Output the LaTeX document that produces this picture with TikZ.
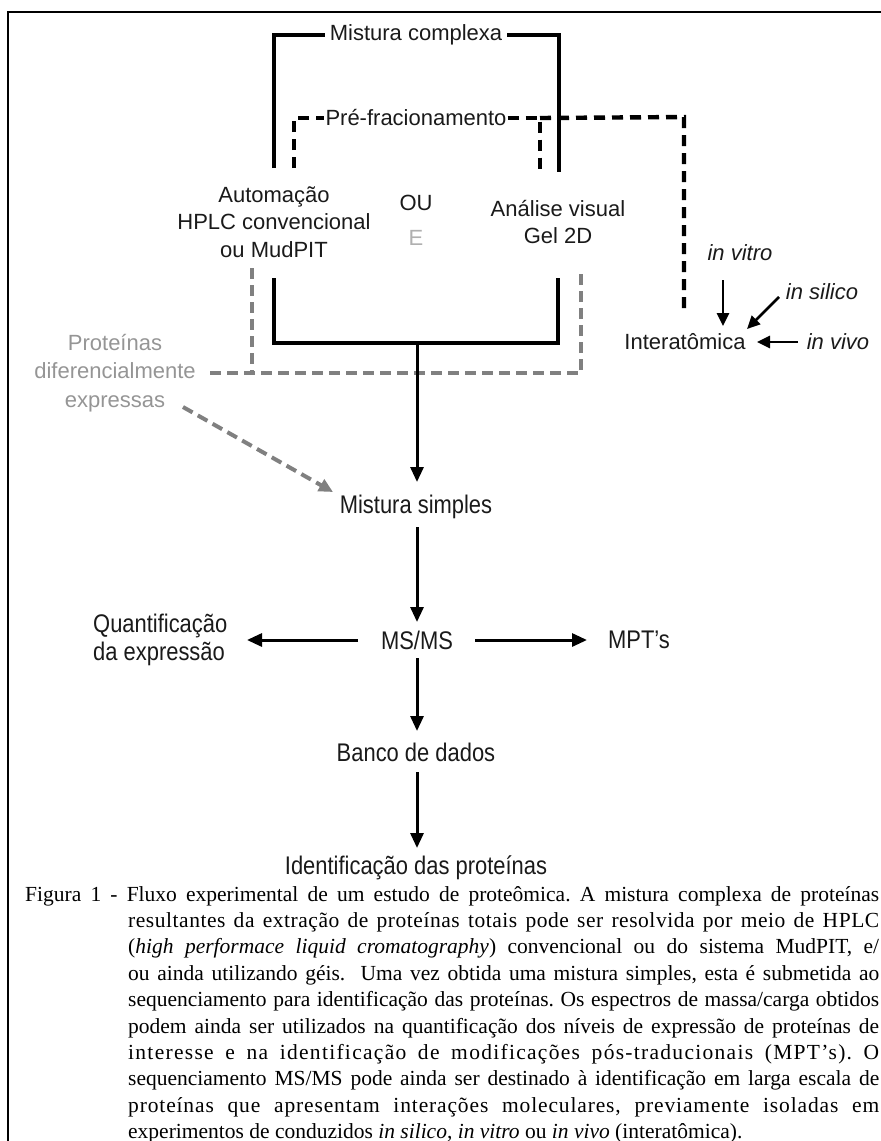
\documentclass[tikz,border=0pt]{standalone}
\usepackage{fontspec}
\setmainfont{Liberation Serif}
\setsansfont{Liberation Sans}
\newfontfamily\narrowsans[FakeStretch=0.86]{Liberation Sans}
\usetikzlibrary{arrows.meta}
\definecolor{txt}{HTML}{1A1A1A}
\definecolor{gtxt}{HTML}{959595}
\definecolor{etxt}{HTML}{B0B0B0}
\definecolor{gline}{HTML}{808080}
\frenchspacing
\begin{document}
\begin{tikzpicture}[x=1pt,y=-1pt,
  lab/.style={font=\fontsize{22}{27.5}\selectfont\sffamily, align=center, inner sep=5pt, text=txt},
  nlab/.style={lab, font=\fontsize{25.5}{27.5}\selectfont\narrowsans},
  itl/.style={lab, font=\fontsize{22}{27.5}\selectfont\sffamily\itshape},
  solidln/.style={line width=3.1pt, draw=black},
  blkdash/.style={line width=4.4pt, draw=black, dash pattern=on 11pt off 7pt},
  graydash/.style={line width=4pt, draw=gline, dash pattern=on 11pt off 6pt},
  arr/.style={line width=3pt, -{Triangle[length=15pt,width=13pt]}},
  sarr/.style={line width=2.6pt, -{Triangle[length=13pt,width=12pt]}},
  garr/.style={graydash, -{Triangle[length=14pt,width=13pt,fill=gline]}},
  capline/.style={anchor=base west, inner sep=0pt, font=\fontsize{21.5}{25.8}\selectfont\rmfamily}
]
\useasboundingbox (0,0) rectangle (881,1141);
\draw[line width=1.5pt] (8,1141) -- (8,12) -- (881,12);

% nodes
\node[lab] (mc) at (416,35) {Mistura complexa};
\node[lab, inner sep=1pt] (pf) at (416,118) {Pré-fracionamento};
\node[lab] (auto) at (274,222) {Automação\\HPLC convencional\\ou MudPIT};
\node[lab] (ou) at (416,203) {OU};
\node[lab, text=etxt] (e) at (416,238) {E};
\node[lab] (anal) at (558,222) {Análise visual\\Gel 2D};
\node[itl] (vitro) at (740,253) {in vitro};
\node[itl] (silico) at (822,292) {in silico};
\node[lab] (inter) at (685,342) {Interatômica};
\node[itl] (vivo) at (838,342) {in vivo};
\node[lab, font=\fontsize{22}{28.5}\selectfont\sffamily, text=gtxt] (pde) at (115,373) {Proteínas\\diferencialmente\\expressas};
\node[nlab] (ms) at (416,507) {Mistura simples};
\node[nlab] (msms) at (417,640) {MS/MS};
\node[nlab, align=left, anchor=west] (quant) at (88,640) {Quantificação\\da expressão};
\node[nlab] (mpt) at (639,640) {MPT’s};
\node[nlab] (banco) at (416,752) {Banco de dados};
\node[nlab] (ident) at (416,868) {Identificação das proteínas};

% coordinates
\coordinate (sL) at (274,168);
\coordinate (sR) at (559,172);
\coordinate (dL) at (294,168);
\coordinate (dR) at (540,172);
\coordinate (dC) at (684,117);
\coordinate (dE) at (684,312);
\coordinate (bL) at (274,278);
\coordinate (bR) at (558,278);
\coordinate (bJ) at (417,343);
\coordinate (bT) at (417,482);
\coordinate (gL) at (252,268);
\coordinate (gR) at (581,268);
\coordinate (gS) at (210,373);
\coordinate (gA) at (183,407);
\coordinate (gT) at (333,492);
\coordinate (vA) at (723,280);
\coordinate (vB) at (723,326);
\coordinate (sA) at (779,297);
\coordinate (sB) at (747,329);
\coordinate (m1) at (417,527);
\coordinate (m2) at (417,622);
\coordinate (m3) at (417,658);
\coordinate (m4) at (417,731);
\coordinate (m5) at (417,772);
\coordinate (m6) at (417,848);
\coordinate (hL0) at (358,640);
\coordinate (hL1) at (247,640);
\coordinate (hR0) at (475,640);
\coordinate (hR1) at (587,640);
\coordinate (iv0) at (798,342);
\coordinate (iv1) at (757,342);

% solid top bracket
\draw[solidln] (sL) |- (mc.west);
\draw[solidln] (mc.east) -| (sR);
% dashed pre-fractionation
\draw[blkdash] (dL) |- (pf.west);
\draw[blkdash] (pf.east) -- (dR |- pf.east) -- (dR);
\draw[blkdash] (dR |- pf.east) -- (dC) -- (dE);
% gray dashed
\draw[graydash] (gS) -- (gR |- gS) -- (gR);
\draw[graydash] (gL) -- (gL |- gS);
% bottom solid join
\draw[solidln] (bL) |- (bJ) -| (bR);
\draw[arr] (bJ) -- (bT);
% gray arrow
\draw[garr] (gA) -- (gT);
% main chain
\draw[arr] (m1) -- (m2);
\draw[arr] (hL0) -- (hL1);
\draw[arr] (hR0) -- (hR1);
\draw[arr] (m3) -- (m4);
\draw[arr] (m5) -- (m6);
% interatomica
\draw[sarr] (vA) -- (vB);
\draw[sarr] (sA) -- (sB);
\draw[sarr] (iv0) -- (iv1);

% caption
\node[capline] (c1) at (25,901) {\makebox[854pt][s]{Figura 1 - Fluxo experimental de um estudo de proteômica. A mistura complexa de proteínas}};
\node[capline] (c2) at (128,927.4) {\makebox[751pt][s]{\addfontfeature{LetterSpace=2.5}resultantes da extração de proteínas totais pode ser resolvida por meio de HPLC}};
\node[capline] (c3) at (128,953.8) {\makebox[751pt][s]{(\textit{high performace liquid cromatography}) convencional ou do sistema MudPIT, e/}};
\node[capline] (c4) at (128,980.2) {\makebox[751pt][s]{ou ainda utilizando géis. \ Uma vez obtida uma mistura simples, esta é submetida ao}};
\node[capline] (c5) at (128,1006.6) {\makebox[751pt][s]{sequenciamento para identificação das proteínas. Os espectros de massa/carga obtidos}};
\node[capline] (c6) at (128,1033) {\makebox[751pt][s]{podem ainda ser utilizados na quantificação dos níveis de expressão de proteínas de}};
\node[capline] (c7) at (128,1059.4) {\makebox[751pt][s]{\addfontfeature{LetterSpace=6}interesse e na identificação de modificações pós-traducionais (MPT’s). O}};
\node[capline] (c8) at (128,1085.8) {\makebox[751pt][s]{sequenciamento MS/MS pode ainda ser destinado à identificação em larga escala de}};
\node[capline] (c9) at (128,1112.2) {\makebox[751pt][s]{\addfontfeature{LetterSpace=4}proteínas que apresentam interações moleculares, previamente isoladas em}};
\node[capline] (c10) at (128,1138.6) {experimentos de conduzidos \textit{in silico}, \textit{in vitro} ou \textit{in vivo} (interatômica).};
\end{tikzpicture}
\end{document}
